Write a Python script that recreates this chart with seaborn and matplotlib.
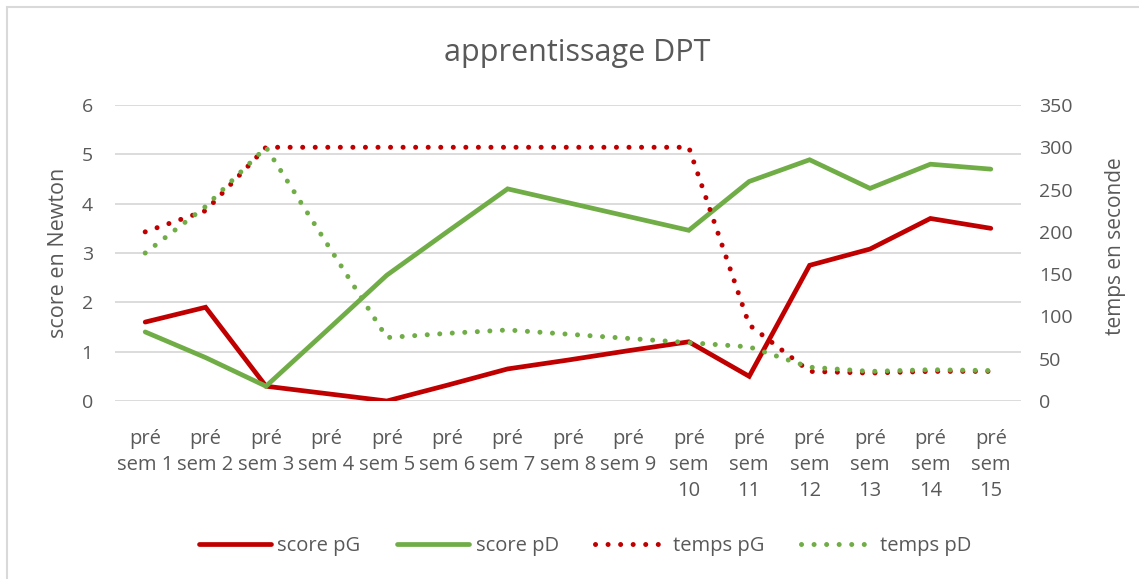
import matplotlib
matplotlib.use("Agg")
import matplotlib.pyplot as plt
from matplotlib.lines import Line2D
from matplotlib.patches import Rectangle
import seaborn as sns

# Weekly sessions and measurements
sessions = ["pré\nsem 1", "pré\nsem 2", "pré\nsem 3", "pré\nsem 4", "pré\nsem 5",
            "pré\nsem 6", "pré\nsem 7", "pré\nsem 8", "pré\nsem 9", "pré\nsem\n10",
            "pré\nsem\n11", "pré\nsem\n12", "pré\nsem\n13", "pré\nsem\n14", "pré\nsem\n15"]
score_pG = [1.6, 1.9, 0.3, 0.15, 0.0, 0.32, 0.65, 0.83, 1.02, 1.2, 0.5, 2.75, 3.08, 3.7, 3.5]
score_pD = [1.4, 0.88, 0.3, 1.42, 2.55, 3.43, 4.3, 4.02, 3.74, 3.46, 4.45, 4.89, 4.31, 4.8, 4.7]
temps_pG = [200, 225, 300, 300, 300, 300, 300, 300, 300, 300, 90, 35, 33, 35, 35]
temps_pD = [175, 230, 300, 187, 75, 80, 84, 79, 74, 69, 64, 40, 35, 37, 36]

score_ticks = [0, 1, 2, 3, 4, 5, 6]
temps_ticks = [0, 50, 100, 150, 200, 250, 300, 350]

RED = "#C00000"
GREEN = "#70AD47"
TXT = "#595959"
GRID = "#D9D9D9"

sns.set_theme(style="white")
plt.rcParams["font.family"] = ["Open Sans", "DejaVu Sans"]

W, H = 1139, 579
fig = plt.figure(figsize=(W / 100, H / 100), dpi=100)
ax = fig.add_axes([115 / W, 1 - 401 / H, 906 / W, 296 / H])
ax2 = ax.twinx()

x = list(range(len(sessions)))
solid_lw = 3.4
dot_style = (0, (0.01, 2.5))

sns.lineplot(x=x, y=score_pG, ax=ax, color=RED, lw=solid_lw, solid_capstyle="round",
             solid_joinstyle="miter", zorder=3)
sns.lineplot(x=x, y=score_pD, ax=ax, color=GREEN, lw=solid_lw, solid_capstyle="round",
             solid_joinstyle="miter", zorder=3)
sns.lineplot(x=x, y=temps_pG, ax=ax2, color=RED, lw=3.6, linestyle=dot_style,
             dash_capstyle="round", zorder=3)
sns.lineplot(x=x, y=temps_pD, ax=ax2, color=GREEN, lw=3.6, linestyle=dot_style,
             dash_capstyle="round", zorder=3)

ax.set_xlim(-0.5, len(sessions) - 0.5)
ax.set_ylim(0, 6)
ax2.set_ylim(0, 350)
ax.set_yticks(score_ticks)
ax2.set_yticks(temps_ticks)
ax.set_xticks(x)
ax.set_xticklabels(sessions)

ax.grid(axis="y", color=GRID, lw=1.3)
ax.grid(axis="x", visible=False)
ax2.grid(False)
ax.set_axisbelow(True)
for a in (ax, ax2):
    for s in a.spines.values():
        s.set_visible(False)
    a.set_xlabel("")
    a.set_ylabel("")
    a.patch.set_alpha(0)

ax.tick_params(axis="x", length=0, pad=20, labelsize=14.5, labelcolor=TXT)
ax.tick_params(axis="y", length=0, pad=16, labelsize=14, labelcolor=TXT)
ax2.tick_params(axis="y", length=0, pad=13, labelsize=14, labelcolor=TXT)
for t in ax.get_xticklabels():
    t.set_linespacing(1.42)

fig.text(577 / W, 1 - 53 / H, "apprentissage DPT", ha="center", va="center",
         fontsize=22, color=TXT)
fig.text(59 / W, 1 - 253 / H, "score en Newton", ha="center", va="center",
         rotation=90, fontsize=15.5, color=TXT)
fig.text(1115 / W, 1 - 246 / H, "temps en seconde", ha="center", va="center",
         rotation=90, fontsize=15, color=TXT)

handles = [
    Line2D([], [], color=RED, lw=solid_lw, solid_capstyle="round"),
    Line2D([], [], color=GREEN, lw=solid_lw, solid_capstyle="round"),
    Line2D([], [], color=RED, lw=3.6, linestyle=dot_style, dash_capstyle="round"),
    Line2D([], [], color=GREEN, lw=3.6, linestyle=dot_style, dash_capstyle="round"),
]
names = ["score pG", "score pD", "temps pG", "temps pD"]
leg = fig.legend(handles, names, loc="center", bbox_to_anchor=(585 / W, 1 - 546 / H),
                 ncol=4, frameon=False, fontsize=14.5, handlelength=3.6,
                 handletextpad=0.3, columnspacing=1.8, labelcolor=TXT)

# chart frame
fig.add_artist(Rectangle((7 / W, -0.05), 1.2, 1.05 - 7 / H, transform=fig.transFigure,
                         fill=False, edgecolor=GRID, lw=1.5))

fig.savefig("out.png", dpi=100)
